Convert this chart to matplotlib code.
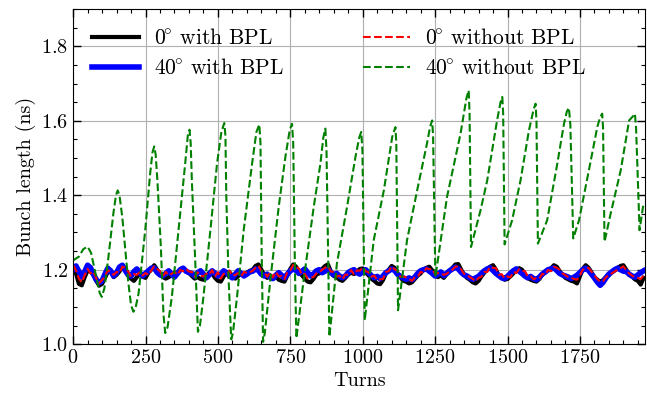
import numpy as np
import matplotlib
matplotlib.use("Agg")
import matplotlib.pyplot as plt
from matplotlib.ticker import MultipleLocator

plt.rcParams["font.family"] = "serif"
plt.rcParams["font.serif"] = ["cmr10"]
plt.rcParams["mathtext.fontset"] = "cm"
plt.rcParams["axes.formatter.use_mathtext"] = True
plt.rcParams["font.size"] = 14.5

# turns sampled every 10 for the three "flat" runs
turns = np.arange(0, 1980, 10)

bl_0_with = [
    1.205, 1.190, 1.162, 1.158, 1.180, 1.198, 1.195, 1.188, 1.170, 1.157,
    1.162, 1.178, 1.195, 1.199, 1.180, 1.186, 1.195, 1.210, 1.203, 1.188,
    1.176, 1.170, 1.180, 1.190, 1.181, 1.178, 1.192, 1.200, 1.212, 1.200,
    1.188, 1.180, 1.176, 1.180, 1.185, 1.192, 1.190, 1.200, 1.202, 1.195,
    1.192, 1.183, 1.176, 1.180, 1.175, 1.173, 1.182, 1.192, 1.190, 1.178,
    1.170, 1.168, 1.182, 1.192, 1.193, 1.183, 1.176, 1.183, 1.190, 1.188,
    1.192, 1.197, 1.200, 1.210, 1.214, 1.200, 1.186, 1.178, 1.185, 1.176,
    1.182, 1.173, 1.170, 1.168, 1.185, 1.202, 1.214, 1.208, 1.193, 1.185,
    1.176, 1.168, 1.166, 1.175, 1.187, 1.190, 1.202, 1.210, 1.214, 1.195,
    1.183, 1.180, 1.173, 1.170, 1.178, 1.187, 1.192, 1.188, 1.195, 1.202,
    1.203, 1.193, 1.185, 1.176, 1.170, 1.163, 1.161, 1.172, 1.190, 1.200,
    1.210, 1.205, 1.190, 1.180, 1.170, 1.168, 1.163, 1.166, 1.175, 1.184,
    1.190, 1.200, 1.205, 1.208, 1.198, 1.186, 1.180, 1.185, 1.178, 1.188,
    1.197, 1.205, 1.214, 1.215, 1.200, 1.186, 1.178, 1.173, 1.166, 1.163,
    1.170, 1.182, 1.192, 1.202, 1.208, 1.212, 1.200, 1.183, 1.178, 1.173,
    1.175, 1.182, 1.190, 1.200, 1.204, 1.200, 1.188, 1.178, 1.173, 1.170,
    1.168, 1.175, 1.187, 1.192, 1.200, 1.203, 1.212, 1.208, 1.196, 1.186,
    1.178, 1.174, 1.170, 1.168, 1.163, 1.182, 1.202, 1.212, 1.205, 1.193,
    1.180, 1.173, 1.168, 1.172, 1.180, 1.185, 1.194, 1.198, 1.204, 1.210,
    1.212, 1.200, 1.186, 1.182, 1.174, 1.170, 1.160, 1.178,
]

bl_40_with = [
    1.200, 1.210, 1.195, 1.180, 1.195, 1.212, 1.205, 1.188, 1.173, 1.165,
    1.170, 1.188, 1.204, 1.196, 1.183, 1.192, 1.207, 1.212, 1.198, 1.186,
    1.183, 1.195, 1.202, 1.192, 1.183, 1.190, 1.197, 1.204, 1.205, 1.193,
    1.186, 1.183, 1.190, 1.197, 1.188, 1.180, 1.190, 1.200, 1.204, 1.196,
    1.192, 1.190, 1.183, 1.192, 1.197, 1.188, 1.178, 1.186, 1.197, 1.190,
    1.183, 1.188, 1.197, 1.192, 1.183, 1.178, 1.188, 1.197, 1.190, 1.183,
    1.188, 1.194, 1.196, 1.202, 1.198, 1.188, 1.183, 1.188, 1.180, 1.176,
    1.185, 1.192, 1.185, 1.178, 1.188, 1.197, 1.202, 1.198, 1.190, 1.196,
    1.202, 1.192, 1.183, 1.188, 1.197, 1.200, 1.192, 1.196, 1.202, 1.192,
    1.186, 1.190, 1.183, 1.178, 1.183, 1.192, 1.197, 1.200, 1.192, 1.188,
    1.195, 1.200, 1.192, 1.184, 1.178, 1.182, 1.176, 1.183, 1.192, 1.197,
    1.202, 1.198, 1.188, 1.182, 1.178, 1.174, 1.178, 1.173, 1.180, 1.190,
    1.197, 1.200, 1.202, 1.196, 1.190, 1.183, 1.188, 1.194, 1.184, 1.190,
    1.197, 1.202, 1.207, 1.202, 1.193, 1.186, 1.183, 1.178, 1.174, 1.178,
    1.182, 1.190, 1.197, 1.202, 1.205, 1.198, 1.190, 1.184, 1.178, 1.176,
    1.182, 1.190, 1.197, 1.202, 1.196, 1.190, 1.183, 1.178, 1.182, 1.176,
    1.173, 1.180, 1.188, 1.194, 1.200, 1.202, 1.205, 1.198, 1.190, 1.186,
    1.183, 1.180, 1.176, 1.180, 1.185, 1.192, 1.200, 1.204, 1.198, 1.188,
    1.178, 1.167, 1.158, 1.166, 1.178, 1.188, 1.194, 1.200, 1.204, 1.200,
    1.196, 1.195, 1.188, 1.183, 1.180, 1.186, 1.192, 1.197,
]

bl_0_without = [
    1.212, 1.198, 1.176, 1.166, 1.186, 1.202, 1.190, 1.195, 1.176, 1.164,
    1.172, 1.182, 1.199, 1.192, 1.186, 1.194, 1.191, 1.208, 1.205, 1.195,
    1.181, 1.188, 1.186, 1.193, 1.184, 1.191, 1.186, 1.198, 1.209, 1.202,
    1.196, 1.181, 1.194, 1.185, 1.189, 1.194, 1.186, 1.199, 1.196, 1.202,
    1.195, 1.194, 1.181, 1.193, 1.184, 1.182, 1.189, 1.186, 1.199, 1.182,
    1.193, 1.176, 1.189, 1.186, 1.198, 1.184, 1.186, 1.191, 1.181, 1.194,
    1.191, 1.193, 1.197, 1.205, 1.211, 1.196, 1.194, 1.181, 1.193, 1.179,
    1.194, 1.182, 1.183, 1.175, 1.194, 1.198, 1.213, 1.208, 1.203, 1.186,
    1.189, 1.176, 1.179, 1.180, 1.190, 1.193, 1.200, 1.205, 1.210, 1.195,
    1.194, 1.181, 1.184, 1.174, 1.187, 1.186, 1.199, 1.187, 1.198, 1.197,
    1.207, 1.196, 1.193, 1.181, 1.184, 1.172, 1.174, 1.175, 1.194, 1.196,
    1.209, 1.201, 1.198, 1.181, 1.182, 1.179, 1.175, 1.170, 1.179, 1.181,
    1.194, 1.191, 1.204, 1.201, 1.202, 1.188, 1.191, 1.190, 1.186, 1.189,
    1.195, 1.200, 1.208, 1.209, 1.201, 1.189, 1.186, 1.180, 1.175, 1.169,
    1.178, 1.181, 1.194, 1.194, 1.208, 1.205, 1.204, 1.186, 1.188, 1.177,
    1.182, 1.179, 1.194, 1.191, 1.201, 1.197, 1.196, 1.182, 1.183, 1.174,
    1.178, 1.176, 1.189, 1.186, 1.199, 1.196, 1.208, 1.205, 1.200, 1.190,
    1.185, 1.180, 1.178, 1.175, 1.173, 1.185, 1.200, 1.204, 1.205, 1.195,
    1.185, 1.175, 1.168, 1.169, 1.180, 1.185, 1.190, 1.195, 1.200, 1.204,
    1.209, 1.199, 1.190, 1.184, 1.180, 1.178, 1.175, 1.184,
]

# 40 deg without BPL: read off turning points and flanks
g_turns = [
    0, 20, 35, 50, 62, 80, 92, 99, 108, 122, 139, 148, 154, 160, 170, 190, 200, 208,
    215, 226, 249, 266, 274, 280, 285, 291, 303, 312, 318,
    326, 341, 364, 387, 396, 402, 406, 410, 422, 431,
    438, 450, 474, 497, 512, 522, 526, 529, 537, 546,
    552, 566, 589, 618, 633, 643, 647, 651, 656,
    662, 681, 710, 733, 748, 756, 760, 766, 771,
    796, 831, 854, 864, 871, 875, 885,
    911, 946, 975, 988, 995, 999, 1007,
    1038, 1073, 1102, 1113, 1116, 1122,
    1153, 1188, 1222, 1233, 1240, 1243, 1251,
    1291, 1338, 1358, 1366, 1369, 1374,
    1407, 1430, 1464, 1476, 1482, 1485, 1490,
    1516, 1545, 1574, 1590, 1597, 1600, 1605,
    1637, 1672, 1695, 1705, 1712, 1717, 1727,
    1747, 1781, 1810, 1820, 1827, 1830, 1835,
    1856, 1891, 1920, 1933, 1940, 1944, 1956,
    1970,
]
g_vals = [
    1.225, 1.235, 1.255, 1.262, 1.245, 1.180, 1.137, 1.127, 1.150, 1.234, 1.351, 1.400, 1.413, 1.400, 1.340, 1.170, 1.105, 1.087,
    1.095, 1.136, 1.306, 1.458, 1.515, 1.531, 1.510, 1.440, 1.261, 1.080, 1.030,
    1.045, 1.127, 1.306, 1.485, 1.560, 1.576, 1.540, 1.440, 1.217, 1.033,
    1.050, 1.127, 1.306, 1.485, 1.570, 1.594, 1.560, 1.395, 1.172, 1.013,
    1.030, 1.127, 1.306, 1.485, 1.570, 1.590, 1.540, 1.250, 1.006,
    1.030, 1.172, 1.369, 1.503, 1.575, 1.592, 1.540, 1.200, 1.016,
    1.172, 1.369, 1.485, 1.555, 1.579, 1.520, 1.020,
    1.217, 1.369, 1.503, 1.555, 1.570, 1.520, 1.064,
    1.279, 1.413, 1.557, 1.583, 1.540, 1.091,
    1.279, 1.413, 1.539, 1.585, 1.601, 1.560, 1.180,
    1.395, 1.566, 1.660, 1.682, 1.620, 1.261,
    1.360, 1.440, 1.601, 1.650, 1.664, 1.620, 1.268,
    1.333, 1.440, 1.574, 1.630, 1.646, 1.600, 1.270,
    1.333, 1.485, 1.592, 1.625, 1.635, 1.590, 1.284,
    1.333, 1.467, 1.583, 1.610, 1.619, 1.580, 1.275,
    1.350, 1.467, 1.601, 1.612, 1.619, 1.580, 1.306,
    1.380,
]

fig, ax = plt.subplots(figsize=(6.47, 3.96), dpi=100)
fig.subplots_adjust(left=0.113, right=0.997, top=0.977, bottom=0.131)

ax.plot(turns, bl_0_with, color="k", lw=3.0, label=r"0$^{\!{\circ}}$ with BPL")
ax.plot(turns, bl_40_with, color="b", lw=4.0, label=r"40$^{\!{\circ}}$ with BPL")
ax.plot(turns, bl_0_without, color="r", ls="--", lw=1.5, label=r"0$^{\!{\circ}}$ without BPL")
ax.plot(g_turns, g_vals, color="g", ls="--", lw=1.5, label=r"40$^{\!{\circ}}$ without BPL")

ax.set_xlim(0, 1975)
ax.set_ylim(1.0, 1.9)
ax.set_xlabel("Turns")
ax.set_ylabel("Bunch length (ns)")

ax.xaxis.set_major_locator(MultipleLocator(250))
ax.xaxis.set_minor_locator(MultipleLocator(50))
ax.yaxis.set_major_locator(MultipleLocator(0.2))
ax.yaxis.set_minor_locator(MultipleLocator(0.05))
ax.tick_params(which="both", direction="in", top=True, right=True)
ax.tick_params(which="major", length=6, width=1)
ax.tick_params(which="minor", length=3, width=0.8)
ax.grid(True, which="major", color="#b0b0b0", lw=0.8)

ax.legend(loc="upper left", ncol=2, frameon=False, fontsize=15.5,
          handlelength=2.15, handletextpad=0.7, columnspacing=3.7,
          borderaxespad=0.5, labelspacing=0.45)

fig.savefig("out.png", dpi=100)
